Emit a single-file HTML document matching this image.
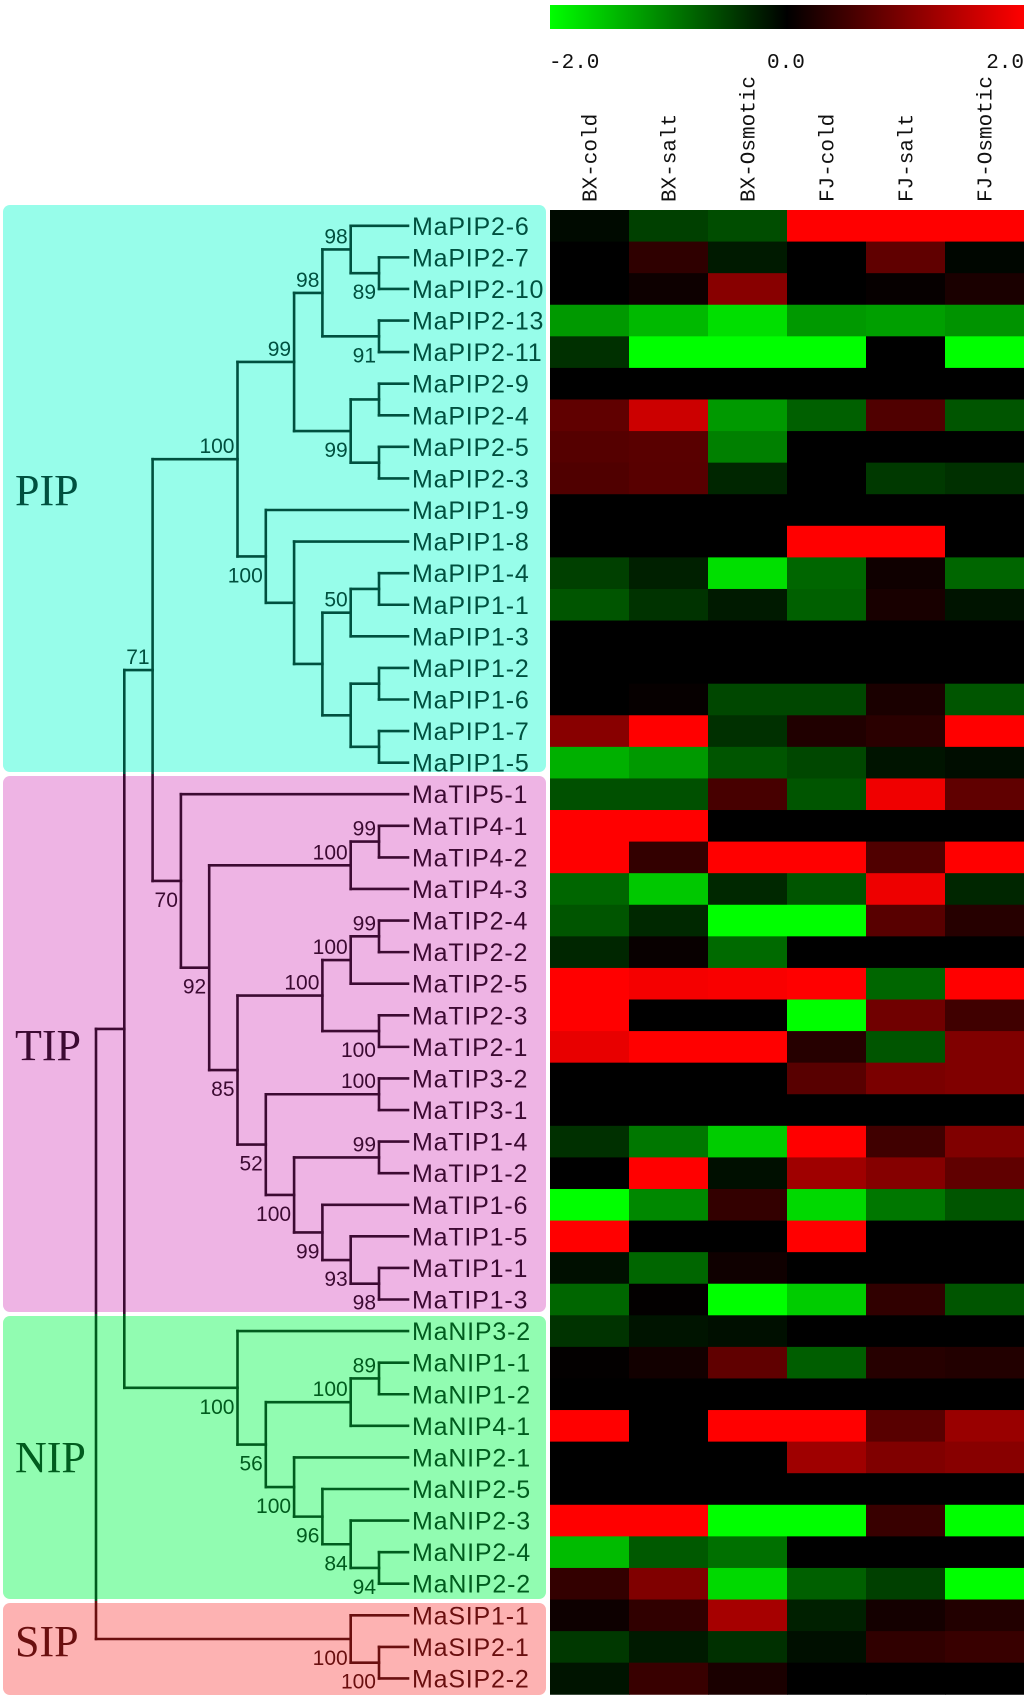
<!DOCTYPE html>
<html><head><meta charset="utf-8"><title>Aquaporin tree and expression heatmap</title>
<style>
html,body{margin:0;padding:0;background:#fff;}
svg{display:block;}
</style></head>
<body>
<svg id="fig" width="1024" height="1700" viewBox="0 0 1024 1700" xmlns="http://www.w3.org/2000/svg">
  <defs>
    <linearGradient id="cbar" x1="0" x2="1" y1="0" y2="0">
      <stop offset="0" stop-color="#00ff00"/>
      <stop offset="0.5" stop-color="#000000"/>
      <stop offset="1" stop-color="#ff0000"/>
    </linearGradient>
  </defs>
  <g id="boxes"></g>
  <g id="tree"></g>
  <g id="genes"></g>
  <g id="heat"></g>
  <g id="legend">
    <rect x="550" y="5" width="474" height="24" fill="url(#cbar)"/>
    <text x="549" y="68" font-family="Liberation Mono, monospace" font-size="21" fill="#111">-2.0</text>
    <text x="767" y="68" font-family="Liberation Mono, monospace" font-size="21" fill="#111">0.0</text>
    <text x="1024" y="68" text-anchor="end" font-family="Liberation Mono, monospace" font-size="21" fill="#111">2.0</text>
  </g>
  <g id="cols"></g>
</svg>
<script>
const genes = ["MaPIP2-6","MaPIP2-7","MaPIP2-10","MaPIP2-13","MaPIP2-11","MaPIP2-9","MaPIP2-4","MaPIP2-5","MaPIP2-3","MaPIP1-9","MaPIP1-8","MaPIP1-4","MaPIP1-1","MaPIP1-3","MaPIP1-2","MaPIP1-6","MaPIP1-7","MaPIP1-5",
"MaTIP5-1","MaTIP4-1","MaTIP4-2","MaTIP4-3","MaTIP2-4","MaTIP2-2","MaTIP2-5","MaTIP2-3","MaTIP2-1","MaTIP3-2","MaTIP3-1","MaTIP1-4","MaTIP1-2","MaTIP1-6","MaTIP1-5","MaTIP1-1","MaTIP1-3",
"MaNIP3-2","MaNIP1-1","MaNIP1-2","MaNIP4-1","MaNIP2-1","MaNIP2-5","MaNIP2-3","MaNIP2-4","MaNIP2-2",
"MaSIP1-1","MaSIP2-1","MaSIP2-2"];
const conditions = ["BX-cold","BX-salt","BX-Osmotic","FJ-cold","FJ-salt","FJ-Osmotic"];
const bxCold = [-0.08,0,0,-1.2,-0.38,0,0.75,0.67,0.63,0,0,-0.5,-0.67,0,0,0,1.07,-1.38,
 -0.63,2,2,-0.8,-0.67,-0.3,2,2,1.82,0,0,-0.38,0,-2,2,-0.12,-0.8,
 -0.4,0.02,0,2,0,0,2,-1.47,0.4,
 0.1,-0.44,-0.16];
const bxSalt = [-0.5,0.37,0.1,-1.45,-2,0,1.6,0.7,0.69,0,0,-0.25,-0.4,0,0,0.05,2,-1.2,
 -0.63,2,0.4,-1.57,-0.31,0.06,1.92,0,2,0,0,-0.93,2,-1.07,0,-0.8,0.02,
 -0.16,0.14,0,0,0,0,2,-0.7,1.0,
 0.38,-0.2,0.44];
const bxOsm = [-0.6,-0.2,1.07,-1.75,-2,0,-1.2,-1.0,-0.3,0,0,-1.75,-0.2,0,0,-0.56,-0.38,-0.67,
 0.56,0,2,-0.31,-2,-0.83,1.95,0,2,0,0,-1.6,-0.12,0.4,0,0.12,-2,
 -0.12,0.75,0,2,0,0,-2,-0.88,-1.7,
 1.3,-0.38,0.2];
const fjCold = [2,0,0,-1.2,-2,0,-0.75,0,0,0,2,-0.8,-0.75,0,0,-0.56,0.25,-0.56,
 -0.67,0,2,-0.67,-2,0,2,-2,0.3,0.69,0,2,1.25,-1.7,2,0,-1.6,
 0,-0.74,0,2,1.25,0,-2,0,-0.75,
 -0.25,-0.12,0];
const fjSalt = [2,0.75,0.05,-1.25,0,0,0.63,0,-0.45,0,2,0.12,0.19,0,0,0.2,0.33,-0.16,
 1.88,0,0.63,1.87,0.69,0,-0.8,0.88,-0.67,0.96,0,0.5,1.04,-0.93,0,0,0.38,
 0,0.3,0,0.69,1.0,0,0.44,0,-0.5,
 0.16,0.38,0];
const fjOsm = [2,-0.05,0.2,-1.15,-2,0,-0.67,0,-0.38,0,0,-0.8,-0.16,0,0,-0.67,2,-0.1,
 0.75,0,2,-0.3,0.3,0,2,0.5,1.0,1.0,0,1.0,0.75,-0.67,0,0,-0.67,
 0,0.27,0,1.2,1.07,0,-2,0,-2,
 0.27,0.44,0];
const series = [bxCold,bxSalt,bxOsm,fjCold,fjSalt,fjOsm];
const colorMin = -2, colorMax = 2;

// tree nodes: [level, bootstrap, labelPos, children]; leaves are row indices
const pipTree = [5,'100','a',[
  [7,'99','a',[
    [8,'98','a',[[9,'98','a',[0,[10,'89','b',[1,2]]]],[10,'91','b',[3,4]]]],
    [9,'99','b',[[10,'','',[5,6]],[10,'','',[7,8]]]]
  ]],
  [6,'100','b',[9,[7,'','',[10,[8,'','',[
    [9,'50','a',[[10,'','',[11,12]],13]],
    [9,'','',[[10,'','',[14,15]],[10,'','',[16,17]]]]
  ]]]]]]
]];
const tipTree = [3,'70','b',[18,[4,'92','b',[
  [9,'100','a',[[10,'99','a',[19,20]],21]],
  [5,'85','b',[
    [8,'100','a',[[9,'100','a',[[10,'99','a',[22,23]],24]],[10,'100','b',[25,26]]]],
    [6,'52','b',[[10,'100','a',[27,28]],[7,'100','b',[[10,'99','a',[29,30]],[8,'99','b',[31,[9,'93','b',[32,[10,'98','b',[33,34]]]]]]]]]]
  ]]
]]]];
const nipTree = [5,'100','b',[35,[6,'56','b',[
  [9,'100','a',[[10,'89','a',[36,37]],38]],
  [7,'100','b',[39,[8,'96','b',[40,[9,'84','b',[41,[10,'94','b',[42,43]]]]]]]]
]]]];
const sipTree = [9,'100','b',[44,[10,'100','b',[45,46]]]];
const treeRoot = [0,'','',[[1,'','',[[2,'71','a',[pipTree,tipTree]],nipTree]],sipTree]];

const groups = [
  {name:'PIP', y0:205, y1:772, fill:'#97fdea', ink:'#00503f', ly:505},
  {name:'TIP', y0:776, y1:1312, fill:'#eeb4e4', ink:'#3c0a32', ly:1060},
  {name:'NIP', y0:1316, y1:1599, fill:'#91fcb1', ink:'#005c1e', ly:1472},
  {name:'SIP', y0:1603, y1:1695, fill:'#fdb2b2', ink:'#6a0f0f', ly:1656}
];

const NS = 'http://www.w3.org/2000/svg';
const X0 = 550, CW = 79, Y0 = 210, RH = 31.58;
function rowY(i){ return Y0 + RH*(i+0.5); }
function levelX(k){ return 96 + 28.3*k; }
const tipX = 408;
function colX(j){ return X0 + CW*j; }
function colorOf(v){
  const t = Math.max(-1, Math.min(1, v/(v<0?-colorMin:colorMax)));
  if (t < 0) return 'rgb(0,' + Math.round(-t*255) + ',0)';
  return 'rgb(' + Math.round(t*255) + ',0,0)';
}
function mk(tag, attrs, parent){
  const e = document.createElementNS(NS, tag);
  for (const k in attrs) e.setAttribute(k, attrs[k]);
  parent.appendChild(e);
  return e;
}

const boxes = document.getElementById('boxes');
groups.forEach(g => {
  const r = mk('rect', {x:3, y:g.y0, width:543, height:g.y1-g.y0, rx:7, fill:g.fill}, boxes);
  
  
  const t = mk('text', {x:15, y:g.ly, 'font-family':'Liberation Serif, serif', 'font-size':44, fill:g.ink}, boxes);
  t.textContent = g.name;
  
  
});

const treeG = document.getElementById('tree');
const defs = document.querySelector('defs');
const segs = [], labels = [];
function lay(n){
  if (typeof n === 'number') return {x:tipX, y:rowY(n)};
  const cs = n[3].map(lay);
  const x = levelX(n[0]);
  const y = (cs[0].y + cs[cs.length-1].y)/2;
  segs.push([x, cs[0].y, x, cs[cs.length-1].y]);
  cs.forEach(c => segs.push([x, c.y, c.x, c.y]));
  if (n[1]) labels.push({x:x-3, y: n[2]==='a' ? y-6 : y+26, t:n[1]});
  return {x, y};
}
lay(treeRoot);
groups.forEach((g, gi) => {
  const cp = mk('clipPath', {id:'clip'+gi}, defs);
  mk('rect', {x:0, y:g.y0-2, width:550, height:g.y1-g.y0+4}, cp);
  const gg = mk('g', {'clip-path':'url(#clip'+gi+')', stroke:g.ink, 'stroke-width':2.6, fill:g.ink}, treeG);
  
  
  segs.forEach(s => {
    const l = mk('line', {x1:s[0], y1:s[1], x2:s[2], y2:s[3], 'stroke-linecap':'square'}, gg);
    
    
  });
  labels.forEach(b => {
    const t = mk('text', {x:b.x, y:b.y, 'text-anchor':'end', stroke:'none', 'font-family':'Liberation Sans, sans-serif', 'font-size':21}, gg);
    t.textContent = b.t;
    
    
  });
});

const geneG = document.getElementById('genes');
function groupOf(i){ return i<18?0:(i<35?1:(i<44?2:3)); }
genes.forEach((name, i) => {
  const t = mk('text', {x:412, y:rowY(i)+9, 'font-family':'Liberation Sans, sans-serif', 'font-size':25, 'letter-spacing':0.8, fill:groups[groupOf(i)].ink}, geneG);
  t.textContent = name;
  
  
});

const heat = document.getElementById('heat');
series.forEach((vals, j) => {
  vals.forEach((v, i) => {
    const r = mk('rect', {x:colX(j), y:Y0+RH*i, width:CW+0.5, height:RH+0.5, fill:colorOf(v)}, heat);
    
    
  });
});

const cols = document.getElementById('cols');
conditions.forEach((c, j) => {
  const cx = colX(j) + CW/2 + 7;
  const t = mk('text', {x:cx, y:202, transform:'rotate(-90 '+cx+' 202)', 'font-family':'Liberation Mono, monospace', 'font-size':21, fill:'#111'}, cols);
  t.textContent = c;
  
  
});
</script>
</body></html>
